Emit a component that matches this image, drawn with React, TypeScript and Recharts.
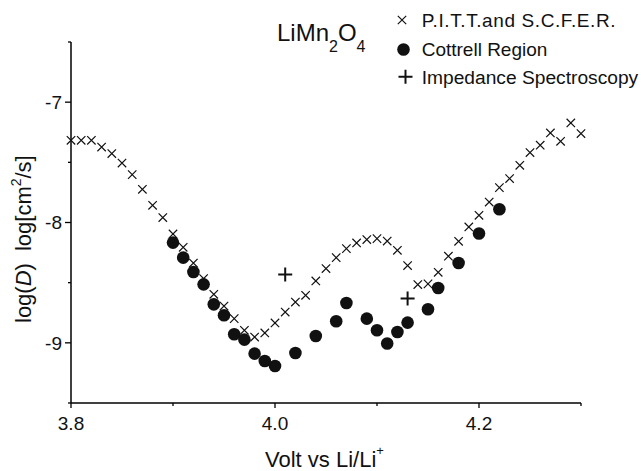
import React from "react";
import { ScatterChart, Scatter, XAxis, YAxis } from "recharts";

// P.I.T.T. and S.C.F.E.R. points (volt, log D)
const pittVolt = [
  3.8, 3.81, 3.82, 3.83, 3.84, 3.85, 3.86, 3.87, 3.88, 3.89, 3.9, 3.91, 3.92, 3.93, 3.94,
  3.95, 3.96, 3.97, 3.98, 3.99, 4.0, 4.01, 4.02, 4.03, 4.04, 4.05, 4.06, 4.07, 4.08, 4.09,
  4.1, 4.11, 4.12, 4.13, 4.14, 4.15, 4.16, 4.17, 4.18, 4.19, 4.2, 4.21, 4.22, 4.23, 4.24,
  4.25, 4.26, 4.27, 4.28, 4.29, 4.3,
];
const pittLogD = [
  -7.317, -7.317, -7.317, -7.373, -7.427, -7.506, -7.602, -7.724, -7.857, -7.959, -8.095, -8.206,
  -8.337, -8.466, -8.597, -8.694, -8.799, -8.896, -8.952, -8.918, -8.835, -8.744, -8.661, -8.605,
  -8.486, -8.383, -8.292, -8.217, -8.17, -8.142, -8.134, -8.154, -8.231, -8.358, -8.516, -8.51,
  -8.414, -8.28, -8.156, -8.037, -7.94, -7.83, -7.71, -7.635, -7.525, -7.419, -7.358, -7.256,
  -7.325, -7.173, -7.261,
];

// Cottrell region points
const cottrellVolt = [
  3.9, 3.91, 3.92, 3.93, 3.94, 3.95, 3.96, 3.97, 3.98, 3.99, 4.0, 4.02, 4.04, 4.06, 4.07, 4.09,
  4.1, 4.11, 4.12, 4.13, 4.15, 4.16, 4.18, 4.2, 4.22,
];
const cottrellLogD = [
  -8.167, -8.292, -8.411, -8.514, -8.68, -8.771, -8.929, -8.973, -9.09, -9.151, -9.193, -9.085,
  -8.943, -8.821, -8.669, -8.799, -8.896, -9.006, -8.91, -8.832, -8.721, -8.544, -8.337, -8.092,
  -7.89,
];

// impedance spectroscopy points
const impedanceVolt = [4.01, 4.13];
const impedanceLogD = [-8.433, -8.632];

const xTicks = [3.8, 3.9, 4.0, 4.1, 4.2, 4.3];
const xLabeled = [3.8, 4.0, 4.2];
const yTicks = [-9.5, -9, -8.5, -8, -7.5, -7, -6.5];
const yLabeled = [-9, -8, -7];

const FONT = "'Liberation Sans', Arial, Helvetica, sans-serif";
const INK = "#111";

const toPoints = (vs: number[], ds: number[]) => vs.map((v, i) => ({ v, d: ds[i] }));
const isIn = (list: number[], val: number) => list.some((t) => Math.abs(t - val) < 1e-9);

function XTick({ x, y, payload }: any) {
  const major = isIn(xLabeled, payload.value);
  return (
    <g>
      <line x1={x} x2={x} y1={y} y2={y + (major ? 5 : 3)} stroke="#000" strokeWidth={1.3} />
      {major && (
        <text x={x} y={y + 26.6} textAnchor="middle" fontSize={19} fontFamily={FONT} fill={INK}>
          {payload.value.toFixed(1)}
        </text>
      )}
    </g>
  );
}

function YTick({ x, y, payload }: any) {
  const major = isIn(yLabeled, payload.value);
  return (
    <g>
      <line x1={x - (major ? 6 : 3)} x2={x} y1={y} y2={y} stroke="#000" strokeWidth={1.3} />
      {major && (
        <text x={x - 9} y={y + 6.7} textAnchor="end" fontSize={19} fontFamily={FONT} fill={INK}>
          {String(payload.value)}
        </text>
      )}
    </g>
  );
}

function CrossMark({ cx, cy }: any) {
  const s = 4.2;
  return (
    <path
      d={`M${cx - s},${cy - s}L${cx + s},${cy + s}M${cx - s},${cy + s}L${cx + s},${cy - s}`}
      stroke={INK}
      strokeWidth={1.2}
      fill="none"
    />
  );
}

function DotMark({ cx, cy }: any) {
  return <circle cx={cx} cy={cy} r={6.3} fill={INK} />;
}

function PlusMark({ cx, cy }: any) {
  const s = 7;
  return (
    <path
      d={`M${cx - s},${cy}L${cx + s},${cy}M${cx},${cy - s}L${cx},${cy + s}`}
      stroke={INK}
      strokeWidth={2}
      fill="none"
    />
  );
}

export default function App() {
  return (
    <div style={{ position: "absolute", left: 0, top: 0, width: 641, height: 471, background: "#fff" }}>
      <ScatterChart width={641} height={471} margin={{ top: 42, right: 60, bottom: 0, left: 0 }}>
        <XAxis
          type="number"
          dataKey="v"
          domain={[3.8, 4.3]}
          ticks={xTicks}
          height={68}
          tickSize={0}
          tickMargin={0}
          tickLine={false}
          axisLine={{ stroke: "#000", strokeWidth: 1.5 }}
          tick={<XTick />}
        />
        <YAxis
          type="number"
          dataKey="d"
          domain={[-9.5, -6.5]}
          ticks={yTicks}
          width={71}
          tickSize={0}
          tickMargin={0}
          tickLine={false}
          axisLine={{ stroke: "#000", strokeWidth: 1.5 }}
          tick={<YTick />}
        />
        <Scatter
          name="Cottrell Region"
          data={toPoints(cottrellVolt, cottrellLogD)}
          shape={(p: any) => <DotMark {...p} />}
          isAnimationActive={false}
        />
        <Scatter
          name="P.I.T.T.and S.C.F.E.R."
          data={toPoints(pittVolt, pittLogD)}
          shape={(p: any) => <CrossMark {...p} />}
          isAnimationActive={false}
        />
        <Scatter
          name="Impedance Spectroscopy"
          data={toPoints(impedanceVolt, impedanceLogD)}
          shape={(p: any) => <PlusMark {...p} />}
          isAnimationActive={false}
        />
      </ScatterChart>

      {/* title, legend and axis titles */}
      <svg
        width={641}
        height={471}
        style={{ position: "absolute", left: 0, top: 0, pointerEvents: "none" }}
        fontFamily={FONT}
        fill={INK}
      >
        <text x={277} y={40.7} fontSize={24}>
          LiMn
          <tspan fontSize={16} dy={11}>2</tspan>
          <tspan dy={-11}>O</tspan>
          <tspan fontSize={16} dy={11}>4</tspan>
        </text>

        <CrossMark cx={402} cy={20} />
        <text x={421.7} y={26.7} fontSize={19} letterSpacing={0.6}>P.I.T.T.and S.C.F.E.R.</text>
        <DotMark cx={403.5} cy={49.5} />
        <text x={421.7} y={56} fontSize={19}>Cottrell Region</text>
        <PlusMark cx={405.5} cy={76.7} />
        <text x={421.7} y={83.5} fontSize={19.2}>Impedance Spectroscopy</text>

        <text x={265} y={467} fontSize={22}>
          Volt vs Li/Li
          <tspan fontSize={13} dy={-12}>+</tspan>
        </text>

        <text x={31} y={323} fontSize={22} transform="rotate(-90 31 323)">
          log(<tspan fontStyle="italic">D</tspan>)
          <tspan dx={12}>log[cm</tspan>
          <tspan fontSize={14} dy={-10}>2</tspan>
          <tspan dy={10}>/s]</tspan>
        </text>
      </svg>
    </div>
  );
}
